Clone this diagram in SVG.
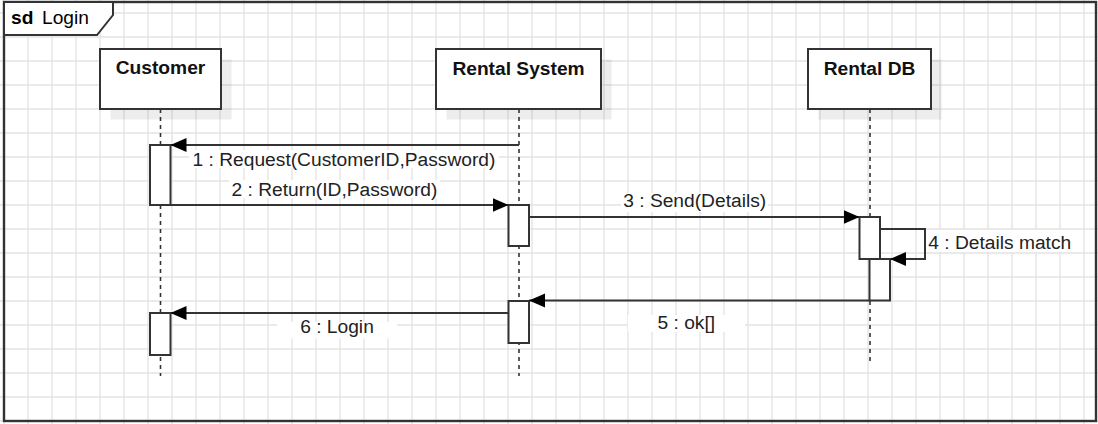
<svg xmlns="http://www.w3.org/2000/svg" width="1098" height="424" viewBox="0 0 1098 424">
<style>
.ln{stroke:#333;stroke-width:2;fill:none}
.box{fill:#fff;stroke:#333;stroke-width:2}
.shadow{fill:#000;fill-opacity:0.07}
.life{stroke:#333;stroke-width:1.6;stroke-dasharray:4 4;fill:none}
.name{font-family:"Liberation Sans",Arial,sans-serif;font-size:19.2px;font-weight:bold;fill:#111;text-anchor:middle}
.lbl{font-family:"Liberation Sans",Arial,sans-serif;font-size:19.2px;fill:#222}
.bg{fill:#fff}
</style>
<defs>
<pattern id="grid" width="24" height="24" patternUnits="userSpaceOnUse" x="-8" y="1">
<path d="M12 0V24M0 12H24" stroke="#e4e4e4" stroke-width="1.4" fill="none"/>
</pattern>
<marker id="arr" markerUnits="userSpaceOnUse" markerWidth="17" markerHeight="15" refX="16" refY="7" orient="auto">
<path d="M0,0L16,7L0,14Z" fill="#000"/>
</marker>
</defs>
<rect x="0" y="0" width="1098" height="424" fill="#fff"/>
<rect x="0" y="0" width="1098" height="424" fill="url(#grid)"/>
<g id="frame">
<rect x="4" y="2" width="1092" height="419" fill="none" stroke="#333" stroke-width="2.4"/>
<path d="M4 2H113V15L97 35H4Z" fill="#fff" stroke="#333" stroke-width="2"/>
<text x="11" y="24" class="lbl" style="font-weight:bold;fill:#000">sd</text>
<text x="42" y="24" class="lbl" style="fill:#000">Login</text>
</g>
<g id="customer">
<rect class="shadow" x="110.5" y="59.5" width="121" height="60"/>
<rect class="box" x="100" y="49" width="121" height="60"/>
<text class="name" x="160.5" y="74">Customer</text>
<line class="life" x1="160.5" y1="109" x2="160.5" y2="376"/>
<rect class="box" x="150" y="145" width="20.5" height="60"/>
<rect class="box" x="150" y="313" width="20.5" height="42"/>
</g>
<g id="rental-system">
<rect class="shadow" x="446.5" y="59.5" width="165" height="60"/>
<rect class="box" x="436" y="49" width="165" height="60"/>
<text class="name" x="518.5" y="75">Rental System</text>
<line class="life" x1="519" y1="109" x2="519" y2="376"/>
<rect class="box" x="508.5" y="205" width="20.5" height="41"/>
<rect class="box" x="508.5" y="301" width="20.5" height="42"/>
</g>
<g id="rental-db">
<rect class="shadow" x="818.5" y="59.5" width="123" height="60"/>
<rect class="box" x="808" y="49" width="123" height="60"/>
<text class="name" x="869.5" y="75">Rental DB</text>
<line class="life" x1="870" y1="109" x2="870" y2="364"/>
<rect class="box" x="859.5" y="217" width="20.5" height="42"/>
<rect class="box" x="869.5" y="259" width="20.5" height="41.5"/>
</g>
<g id="connectors">
<line class="ln" x1="519" y1="145" x2="170.5" y2="145" marker-end="url(#arr)"/>
<rect class="bg" x="189" y="150" width="310" height="18"/>
<text class="lbl" x="344" y="166" text-anchor="middle">1 : Request(CustomerID,Password)</text>
<line class="ln" x1="170.5" y1="205" x2="508.5" y2="205" marker-end="url(#arr)"/>
<rect class="bg" x="229" y="180" width="211" height="18"/>
<text class="lbl" x="334.5" y="195.7" text-anchor="middle">2 : Return(ID,Password)</text>
<line class="ln" x1="529" y1="217" x2="859.5" y2="217" marker-end="url(#arr)"/>
<rect class="bg" x="621" y="193" width="147" height="19"/>
<text class="lbl" x="694.7" y="207.3" text-anchor="middle">3 : Send(Details)</text>
<path class="ln" d="M880 229H925V259H890" marker-end="url(#arr)"/>
<rect class="bg" x="926" y="230" width="149" height="22"/>
<text class="lbl" x="928.3" y="249">4 : Details match</text>
<line class="ln" x1="869.5" y1="300.5" x2="529" y2="300.5" marker-end="url(#arr)"/>
<rect class="bg" x="628" y="315" width="117" height="17"/>
<text class="lbl" x="686.3" y="329" text-anchor="middle">5 : ok[]</text>
<line class="ln" x1="508.5" y1="313" x2="170.5" y2="313" marker-end="url(#arr)"/>
<rect class="bg" x="277" y="322" width="120" height="16.5"/>
<text class="lbl" x="337" y="333.3" text-anchor="middle">6 : Login</text>
</g>
</svg>
